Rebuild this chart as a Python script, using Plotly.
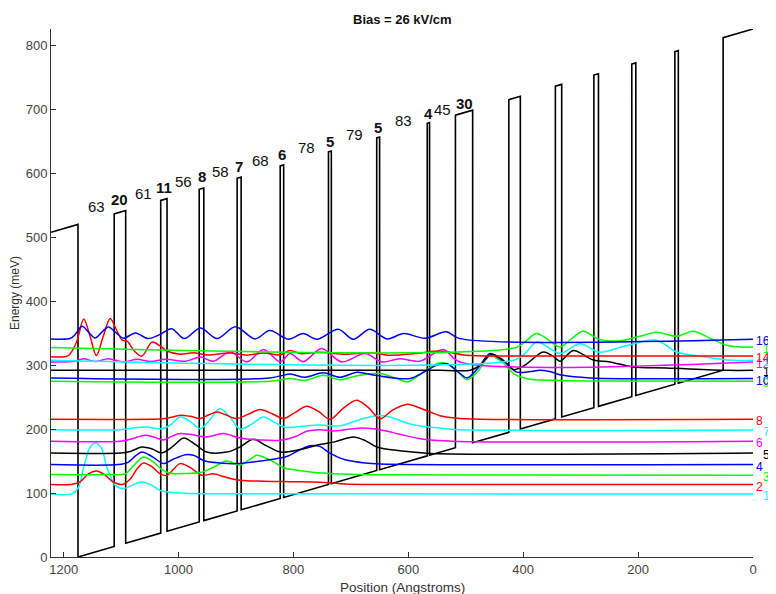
import plotly.graph_objects as go

# ---------------- data ----------------
bias_kV_per_cm = 26
barrier_height = 520.0          # meV conduction band offset
x_left = 1222                   # Angstrom, left end of plotted structure
x_first_well = 1175             # Angstrom, start of first well (energy 0)
final_barrier = 52              # Angstrom, right-hand cladding barrier

layer_widths = [63, 20, 61, 11, 56, 8, 58, 7, 68, 6, 78, 5, 79, 5, 83, 4, 45, 30]
layer_barrier = [False, True] * 9
second_period_layers = 11       # layers of next period that are drawn

state_levels = [98.5, 113.2, 127.7, 144.5, 162.6, 181.0, 198.6, 215.3,
                274.7, 278.9, 291.9, 305.0, 307.5, 314.3, 328.0, 340.4]
state_names = [str(i) for i in range(1, 17)]
state_colors = ["#00FFFF", "#FF0000", "#00FF00", "#0000FF", "#000000", "#FF00FF"] * 3

psi1_x = [1222, 1185, 1174, 1165, 1155, 1145, 1134, 1125, 1110, 1096, 1081, 1064, 1046, 1032, 1017, 988, 945, 0]
psi1_E = [98.5, 99, 109, 140.7, 170, 178.3, 170, 140.7, 112, 107, 112, 117.3, 112, 104, 101.6, 99.5, 98.8, 98.5]

psi2_x = [1222, 1185, 1171, 1157, 1143, 1129, 1115, 1098, 1084, 1072, 1061, 1046, 1032, 1020, 1009, 997, 980, 959, 940, 919, 893, 853, 806, 754, 710, 649, 0]
psi2_E = [113.2, 113.6, 118, 130, 134.5, 129, 118, 113.4, 122, 138, 147, 141, 130, 127.7, 137, 146, 140, 127.7, 130, 125, 120, 118.5, 117.7, 117, 114, 113.2, 113.2]

psi3_x = [1222, 1119, 1093, 1079, 1061, 1046, 1029, 1015, 988, 962, 940, 916, 893, 875, 864, 841, 818, 788, 736, 649, 0]
psi3_E = [128.8, 128.8, 130, 142, 156.4, 150, 136.6, 131, 130.5, 132, 140, 150, 144, 153, 159, 152, 140, 135, 130.4, 128.5, 127.7]

psi4_x = [1222, 1105, 1088, 1075, 1064, 1046, 1026, 1011, 988, 974, 954, 928, 899, 867, 841, 812, 788, 771, 754, 736, 710, 675, 649, 0]
psi4_E = [144.5, 144.5, 148, 158, 164.2, 157, 146, 152, 160, 159, 150, 147, 146, 149, 152, 157, 168, 174, 173, 162, 152, 147, 145.5, 144.5]

psi5_x = [1222, 1101, 1084, 1064, 1046, 1029, 1011, 991, 971, 951, 916, 893, 870, 849, 823, 788, 754, 728, 696, 675, 655, 615, 562, 0]
psi5_E = [162.6, 162.6, 165, 172, 169, 162.6, 172, 186, 176, 164.2, 164, 172, 184, 175, 164, 168, 176, 180, 187.6, 182, 172, 166, 162, 162.6]

psi6_x = [1222, 1101, 1084, 1058, 1041, 1026, 1011, 997, 976, 951, 922, 893, 858, 823, 797, 777, 754, 728, 701, 679, 649, 615, 580, 522, 0]
psi6_E = [181, 181, 184, 190.3, 187, 183, 189, 193, 191, 187.6, 193, 186, 183, 182.5, 188, 196.5, 199, 197, 200, 201.7, 199, 192, 185, 181, 181]

psi7_x = [1222, 1101, 1084, 1055, 1029, 1015, 997, 980, 962, 945, 928, 910, 893, 872, 853, 832, 815, 788, 754, 719, 684, 656, 632, 597, 562, 519, 0]
psi7_E = [199, 199, 201, 203.3, 200.5, 206, 219, 212, 200.7, 215, 232, 218, 200, 208, 219, 210, 203, 204, 206.5, 205, 215, 221, 219, 208, 203, 199.5, 198.6]

psi8_x = [1222, 1049, 1028, 1015, 997, 980, 962, 948, 933, 917, 899, 879, 858, 837, 817, 797, 777, 757, 736, 714, 690, 670, 649, 627, 601, 580, 562, 545, 519, 475, 0]
psi8_E = [215.3, 215.3, 216, 218, 221.6, 220, 216.4, 222, 226.7, 222, 216.4, 223, 230.5, 224, 216.4, 226, 235.6, 228, 215.3, 232, 245, 234, 216, 230, 239, 233, 226.7, 221, 217.5, 215.5, 215.3]

psi9_x = [1222, 841, 806, 780, 748, 719, 691, 649, 623, 601, 580, 548, 531, 514, 498, 479, 458, 437, 414, 388, 336, 267, 0]
psi9_E = [274.7, 274.7, 279, 276, 284, 277, 283, 287, 280, 274, 285, 303, 302, 290, 277, 290, 315, 305, 285, 278, 276, 275, 274.7]

psi10_x = [1222, 841, 806, 780, 748, 719, 689, 658, 597, 571, 550, 533, 514, 498, 479, 458, 441, 428, 411, 388, 371, 354, 331, 284, 0]
psi10_E = [279.9, 279.9, 286, 281, 288, 281, 289, 284, 279, 290, 300, 302, 290, 280, 295, 318, 310, 302, 289, 290, 292, 290, 284, 280, 278.9]

psi11_x = [1222, 545, 492, 475, 455, 435, 417, 397, 365, 345, 336, 313, 293, 278, 249, 209, 151, 46, 0]
psi11_E = [291.9, 292, 292, 300, 317, 308, 293, 300, 320.5, 312, 306, 323, 315, 308, 305, 297, 295.5, 291.9, 291.9]

psi12_x = [1222, 1180, 1165, 1145, 1122, 1096, 1072, 1049, 1023, 988, 962, 940, 910, 881, 852, 823, 806, 783, 751, 716, 675, 646, 615, 580, 539, 510, 0]
psi12_E = [305, 306, 310, 305.5, 310, 305, 309, 305.5, 309, 306, 312.7, 306, 320.5, 305, 324.3, 305, 318, 305.4, 325.8, 305, 318, 305, 310, 306, 324.3, 305, 305]

psi13_x = [1222, 417, 397, 377, 357, 336, 301, 267, 223, 168, 133, 93, 35, 0]
psi13_E = [307.5, 307.5, 318, 336.3, 328, 318, 333.6, 320, 330, 338.8, 320.5, 314, 307.5, 307.5]

psi14_x = [1222, 1192, 1178, 1165, 1154, 1143, 1131, 1119, 1108, 1098, 1089, 1077, 1064, 1046, 1032, 1020, 997, 974, 951, 910, 881, 852, 823, 806, 788, 754, 710, 667, 632, 588, 545, 499, 441, 0]
psi14_E = [313, 315, 335, 372, 345, 315, 345, 372.7, 355, 339, 337, 322, 314, 336, 330, 322, 317, 319.5, 316, 319, 315.5, 319, 316, 323, 318, 320, 317, 319.5, 315.5, 318, 322, 315.4, 314.3, 314.3]

psi15_x = [1222, 412, 395, 377, 357, 336, 315, 296, 267, 232, 197, 168, 133, 104, 75, 46, 23, 0]
psi15_E = [327.4, 327.6, 338, 349.3, 340, 328.3, 342, 352.9, 340, 338, 345, 351.3, 345, 352.9, 342, 331, 328.3, 328.3]

psi16_x = [1222, 1188, 1180, 1168, 1157, 1145, 1133, 1122, 1108, 1096, 1075, 1053, 1032, 1012, 990, 962, 933, 901, 867, 841, 809, 783, 759, 722, 696, 667, 637, 608, 571, 534, 510, 0]
psi16_E = [341, 342, 348, 360.7, 352, 342.4, 352, 359.6, 350, 342, 350.3, 341.5, 348, 357, 341.5, 358, 341.5, 360, 341, 354, 340.5, 349.3, 340.5, 356, 340.5, 356, 341, 349.3, 342, 352, 341.4, 340.4]

psi_x = [psi1_x, psi2_x, psi3_x, psi4_x, psi5_x, psi6_x, psi7_x, psi8_x,
         psi9_x, psi10_x, psi11_x, psi12_x, psi13_x, psi14_x, psi15_x, psi16_x]
psi_E = [psi1_E, psi2_E, psi3_E, psi4_E, psi5_E, psi6_E, psi7_E, psi8_E,
         psi9_E, psi10_E, psi11_E, psi12_E, psi13_E, psi14_E, psi15_E, psi16_E]

# label height line (meV)
label_ref_x = 1143.5
label_ref_E = 548.6
label_rise = 0.25               # meV per Angstrom

x_ticks = [1200, 1000, 800, 600, 400, 200, 0]
y_ticks = [0, 100, 200, 300, 400, 500, 600, 700, 800]

# ---------------- build band profile ----------------
field = bias_kV_per_cm * 0.01   # meV / Angstrom


def band(x, is_barrier):
    return field * (x_first_well - x) + (barrier_height if is_barrier else 0.0)


all_layers = layer_widths + layer_widths[:second_period_layers]
all_types = layer_barrier + layer_barrier[:second_period_layers]

prof_x = [x_left, x_first_well, x_first_well]
prof_E = [band(x_left, True), band(x_first_well, True), band(x_first_well, False)]
pos = x_first_well
for i, (w, b) in enumerate(zip(all_layers, all_types)):
    pos = pos - w
    prof_x.append(pos)
    prof_E.append(band(pos, b))
    nxt = all_types[i + 1] if i + 1 < len(all_types) else True
    prof_x.append(pos)
    prof_E.append(band(pos, nxt))
end_x = pos - final_barrier
prof_x.append(end_x)
prof_E.append(band(end_x, True))

# label positions (period one)
label_x, label_y, label_t = [], [], []
pos = x_first_well
for w, b in zip(layer_widths, layer_barrier):
    c = pos - w / 2.0
    label_x.append(c)
    label_y.append(label_ref_E + label_rise * (label_ref_x - c))
    label_t.append("<b>%d</b>" % w if b else "%d" % w)
    pos -= w

# ---------------- figure ----------------
fig = go.Figure()
fig.add_trace(go.Scatter(x=prof_x, y=prof_E, mode="lines",
                         line=dict(color="black", width=1.6),
                         hoverinfo="skip", showlegend=False))

for i in range(len(state_levels)):
    fig.add_trace(go.Scatter(x=psi_x[i], y=psi_E[i], mode="lines",
                             line=dict(color=state_colors[i], width=1.5,
                                       shape="spline", smoothing=0.9),
                             name=state_names[i], showlegend=False))

FONT = "Liberation Sans, Arial, Helvetica, sans-serif"
ann = []
for x, y, t in zip(label_x, label_y, label_t):
    ann.append(dict(x=x, y=y, xref="x", yref="y", text=t, showarrow=False,
                    font=dict(family=FONT, size=15, color="#111111"),
                    xanchor="center", yanchor="middle"))

for i, lvl in enumerate(state_levels):
    ann.append(dict(x=0, y=lvl, xref="x", yref="y", text=state_names[i],
                    showarrow=False, xanchor="left", yanchor="middle",
                    xshift=1 if (i + 1) % 2 == 0 else 8, yshift=-2,
                    font=dict(family=FONT, size=12, color=state_colors[i])))

ann.append(dict(x=0.5, y=1.0, xref="paper", yref="paper", yshift=10,
                text="<b>Bias = 26 kV/cm</b>", showarrow=False,
                xanchor="center", yanchor="middle",
                font=dict(family=FONT, size=13, color="#111111")))
ann.append(dict(x=0.5, y=0, xref="paper", yref="paper", yshift=-30,
                text="Position (Angstroms)", showarrow=False,
                xanchor="center", yanchor="middle",
                font=dict(family=FONT, size=13.5, color="#333333")))
ann.append(dict(x=0, y=0.5, xref="paper", yref="paper", xshift=-36,
                text="Energy (meV)", showarrow=False, textangle=-90,
                xanchor="center", yanchor="middle",
                font=dict(family=FONT, size=12, color="#333333")))

axis_common = dict(showgrid=False, zeroline=False, showline=True,
                   linecolor="#333333", linewidth=1, ticks="inside",
                   ticklen=5, tickcolor="#333333",
                   tickfont=dict(family=FONT, size=13, color="#444444"))

# the page body adds an 8 px margin on the left and top, so the figure is
# sized so that the plot lands where the reference shows it
fig.update_layout(
    width=768, height=586,
    margin=dict(l=43, r=23, t=21, b=37),
    paper_bgcolor="white", plot_bgcolor="white",
    xaxis=dict(range=[x_left, 0], tickvals=x_ticks, **axis_common),
    yaxis=dict(range=[0, band(0, True)], tickvals=y_ticks, **axis_common),
    annotations=ann,
)

fig.write_html("out.html")
